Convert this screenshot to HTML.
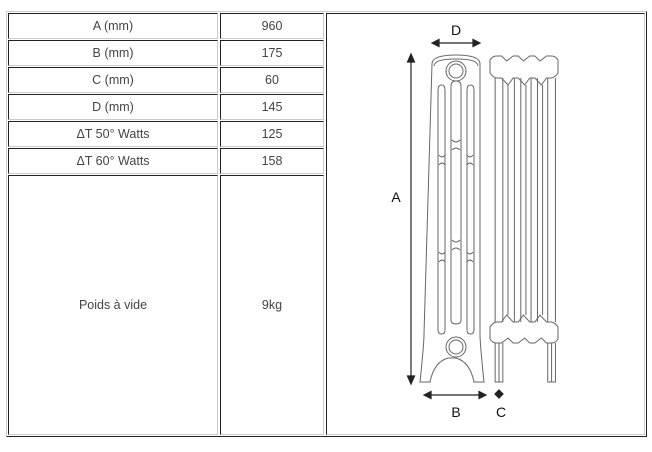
<!DOCTYPE html>
<html><head><meta charset="utf-8"><style>
body{margin:0;width:652px;height:452px;background:#fff;position:relative;overflow:hidden;font-family:"Liberation Sans",sans-serif;}
.t{position:absolute;left:6px;top:11px;width:639px;height:424px;border:1px solid;border-color:#ccc #222 #222 #ccc;}
.c{position:absolute;box-sizing:border-box;border:1px solid;border-color:#222 #ccc #ccc #222;display:flex;align-items:center;justify-content:center;font-size:12.5px;color:#444;}
svg path{vector-effect:non-scaling-stroke;}
</style></head><body>
<div class="t"></div>
<div class="c" style="left:8px;top:13px;width:210px;height:26px">A (mm)</div>
<div class="c" style="left:220px;top:13px;width:104px;height:26px">960</div>
<div class="c" style="left:8px;top:40px;width:210px;height:26px">B (mm)</div>
<div class="c" style="left:220px;top:40px;width:104px;height:26px">175</div>
<div class="c" style="left:8px;top:67px;width:210px;height:26px">C (mm)</div>
<div class="c" style="left:220px;top:67px;width:104px;height:26px">60</div>
<div class="c" style="left:8px;top:94px;width:210px;height:26px">D (mm)</div>
<div class="c" style="left:220px;top:94px;width:104px;height:26px">145</div>
<div class="c" style="left:8px;top:121px;width:210px;height:26px">ΔT 50° Watts</div>
<div class="c" style="left:220px;top:121px;width:104px;height:26px">125</div>
<div class="c" style="left:8px;top:148px;width:210px;height:26px">ΔT 60° Watts</div>
<div class="c" style="left:220px;top:148px;width:104px;height:26px">158</div>
<div class="c" style="left:8px;top:175px;width:210px;height:260px">Poids à vide</div>
<div class="c" style="left:220px;top:175px;width:104px;height:260px">9kg</div>
<div class="c" style="left:326px;top:13px;width:319px;height:422px"></div>
<svg style="position:absolute;left:0;top:0" width="652" height="452">
<g fill="#111" font-family="Liberation Sans,sans-serif" font-size="14" text-anchor="middle">
<text x="456" y="35">D</text><text x="396" y="202">A</text><text x="456" y="417">B</text><text x="501" y="417">C</text>
</g>
<g stroke="#222" stroke-width="1.2" fill="#222">
<line x1="436" y1="43" x2="476" y2="43"/><path d="M432 43l7-3.5v7z M480 43l-7-3.5v7z"/>
<line x1="411" y1="60" x2="411" y2="378"/><path d="M411 54l-3.5 8h7z M411 384l-3.5-8h7z"/>
<line x1="428" y1="395" x2="482" y2="395"/><path d="M424 395l7-3.5v7z M486 395l-7-3.5v7z"/>
<path d="M499 390l4 4-4 4-4-4z"/>
</g>
<g fill="none" stroke="#666" stroke-width="1">
<path d="M432 64q0-9 24-9q24 0 24 9v270q0 10 4 48h-10q-4-20-18-24h-8q-14 4-18 24h-10q4-38 4-48z"/>
<path d="M434 66q0-7 22-7q22 0 22 7"/>
<circle cx="456" cy="71" r="10"/><circle cx="456" cy="71" r="7"/>
<circle cx="456" cy="347" r="10"/><circle cx="456" cy="347" r="7"/>
<path d="M438 330v-240q0-5 3.5-5t3.5 5v240q0 4-3.5 4t-3.5-4z"/>
<path d="M451 320v-234q0-5 5-5t5 5v234q0 4-5 4t-5-4z"/>
<path d="M467 330v-240q0-5 3.5-5t3.5 5v240q0 4-3.5 4t-3.5-4z"/>
<path d="M439 155q3 4 6 0M439 165q3-4 6 0M439 252q3 4 6 0M439 262q3-4 6 0M467 155q3 4 6 0M467 165q3-4 6 0M467 252q3 4 6 0M467 262q3-4 6 0M452 140q4 4 8 0M452 150q4-4 8 0M452 240q4 4 8 0M452 250q4-4 8 0"/>
<g transform="translate(490,0) scale(1.283,1) translate(-490,0)">
<path d="M490 60q2-4 5-4h4l4 5 5-5h4l4 5 5-5h4l4 5 5-5h4q3 0 5 4v13q-2 4-5 5l-4 0-4 7-5-7-4 0-4 7-5-7-4 0-4 7-5-7-4 0q-3-1-5-5z"/>
<path d="M490 327q2-4 5-5h4l4-7 5 7h4l4-7 5 7h4l4-7 5 7h4q3 1 5 5v12q-2 4-5 4h-4l-4-5-5 5h-4l-4-5-5 5h-4l-4-5-5 5h-4q-3 0-5-4z"/>
<path d="M494 343v39h6v-39M535 343v39h6v-39"/>
<path d="M494 78v244M500 78v244M504 85v230M509 78v244M514 78v244M518 85v230M522 78v244M527 78v244M531 85v230M535 78v244M541 78v244M497 343v39M538 343v39"/>
</g>
</g>
</svg>
</body></html>
